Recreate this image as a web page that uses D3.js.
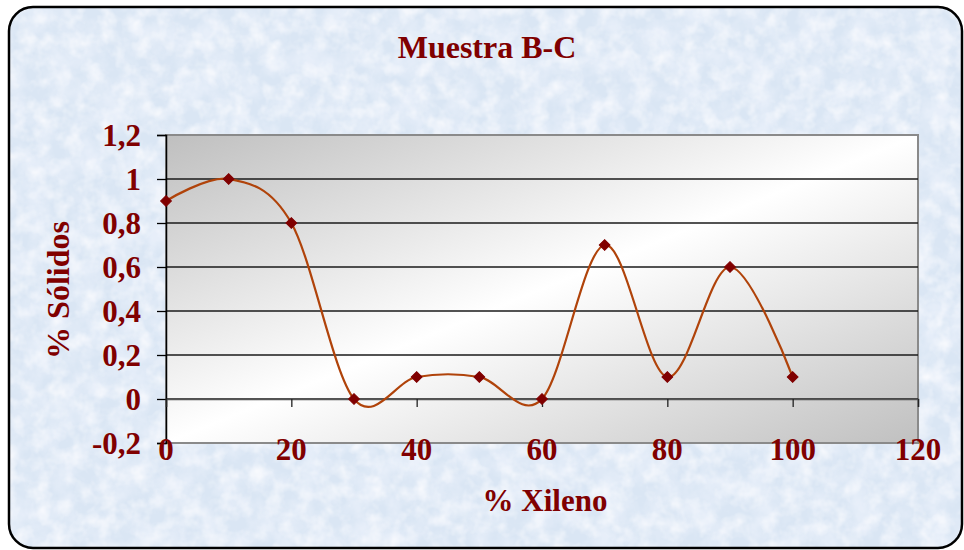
<!DOCTYPE html>
<html><head><meta charset="utf-8">
<script src="https://cdn.jsdelivr.net/npm/d3@7"></script>
<style>html,body{margin:0;padding:0;background:#fff;}</style>
</head><body>
<svg id="c" width="964" height="550"></svg>
<script>
const xValues = [0, 10, 20, 30, 40, 50, 60, 70, 80, 90, 100];
const yValues = [0.9, 1, 0.8, 0, 0.1, 0.1, 0, 0.7, 0.1, 0.6, 0.1];
const xTicks = [0, 20, 40, 60, 80, 100, 120];
const yTicks = [-0.2, 0, 0.2, 0.4, 0.6, 0.8, 1, 1.2];
const title = "Muestra B-C";
const xTitle = "% Xileno";
const yTitle = "% Sólidos";

const svg = d3.select("#c");
const defs = svg.append("defs");
const dark = "#800000";
const font = "'Liberation Serif','Times New Roman',serif";

// texture
const f = defs.append("filter").attr("id","tex").attr("x",0).attr("y",0).attr("width","100%").attr("height","100%");
f.append("feTurbulence").attr("type","fractalNoise").attr("baseFrequency","0.04").attr("numOctaves",4).attr("seed",7).attr("result","n");
f.append("feColorMatrix").attr("in","n").attr("type","matrix")
 .attr("values","0 0 0 0 0.80  0 0 0 0 0.86  0 0 0 0 0.95  0 0 0 2.2 -0.75").attr("result","c");
f.append("feComposite").attr("in","c").attr("in2","SourceGraphic").attr("operator","in");

const f2 = defs.append("filter").attr("id","tex2").attr("x",0).attr("y",0).attr("width","100%").attr("height","100%");
f2.append("feTurbulence").attr("type","fractalNoise").attr("baseFrequency","0.06").attr("numOctaves",3).attr("seed",11).attr("result","n");
f2.append("feColorMatrix").attr("in","n").attr("type","matrix")
 .attr("values","0 0 0 0 0.95  0 0 0 0 0.96  0 0 0 0 0.99  0 0 0 1.8 -0.75").attr("result","c");
f2.append("feComposite").attr("in","c").attr("in2","SourceGraphic").attr("operator","in");

const g = defs.append("linearGradient").attr("id","pg").attr("x1","0").attr("y1","0").attr("x2","1").attr("y2","1");
g.append("stop").attr("offset","0").attr("stop-color","#bfbfbf");
g.append("stop").attr("offset","0.5").attr("stop-color","#ffffff");
g.append("stop").attr("offset","1").attr("stop-color","#c0c0c0");

defs.append("clipPath").attr("id","bgclip").append("rect")
  .attr("x",9).attr("y",7).attr("width",953).attr("height",541).attr("rx",24);

svg.append("rect").attr("x",9).attr("y",7).attr("width",953).attr("height",541).attr("rx",24)
  .attr("fill","#dae6f4");
const bg = svg.append("g").attr("clip-path","url(#bgclip)");
bg.append("rect").attr("x",9).attr("y",7).attr("width",953).attr("height",541)
  .attr("fill","#ccc").attr("filter","url(#tex)");
bg.append("rect").attr("x",9).attr("y",7).attr("width",953).attr("height",541)
  .attr("fill","#ccc").attr("filter","url(#tex2)");
svg.append("rect").attr("x",9).attr("y",7).attr("width",953).attr("height",541).attr("rx",24)
  .attr("fill","none").attr("stroke","#000").attr("stroke-width",2.5);

const L = 166, R = 918, T = 135, B = 443;
const x = d3.scaleLinear().domain([0,120]).range([L,R]);
const y = d3.scaleLinear().domain([-0.2,1.2]).range([B,T]);

svg.append("rect").attr("x",L).attr("y",T).attr("width",R-L).attr("height",B-T)
  .attr("fill","url(#pg)").attr("stroke","#8a8a8a").attr("stroke-width",2);

// gridlines
svg.append("g").selectAll("line").data(yTicks.filter(d=>d>-0.2 && d<1.2)).join("line")
  .attr("x1",L).attr("x2",R).attr("y1",d=>y(d)).attr("y2",d=>y(d))
  .attr("stroke","#1a1a1a").attr("stroke-width",1.3);

const fmt = d => String(+d.toFixed(1)).replace(".", ",");

// y axis
const ya = svg.append("g").attr("transform",`translate(${L},0)`)
  .call(d3.axisLeft(y).tickValues(yTicks).tickSize(9).tickPadding(16).tickFormat(fmt));
ya.select(".domain").attr("stroke","#000").attr("stroke-width",1.5);
ya.selectAll(".tick line").attr("stroke","#000").attr("stroke-width",1.3);
ya.selectAll("text").attr("font-family",font).attr("font-weight","bold").attr("font-size",31)
  .attr("fill",dark).attr("dy","0.33em");

// x axis at y=0
const xa = svg.append("g").attr("transform",`translate(0,${y(0)})`)
  .call(d3.axisBottom(x).tickValues(xTicks).tickSize(8).tickFormat(""));
xa.select(".domain").attr("stroke","#555").attr("stroke-width",1.5);
xa.selectAll(".tick line").attr("stroke","#222").attr("stroke-width",1.3);

svg.append("g").selectAll("text").data(xTicks).join("text")
  .attr("x",d=>x(d)).attr("y",B+17).attr("text-anchor","middle")
  .attr("font-family",font).attr("font-weight","bold").attr("font-size",31).attr("fill",dark)
  .text(d=>d);

// line
const pts = xValues.map((v,i)=>[v,yValues[i]]);
svg.append("path").datum(pts)
  .attr("d", d3.line().x(d=>x(d[0])).y(d=>y(d[1])).curve(d3.curveCatmullRom.alpha(0)))
  .attr("fill","none").attr("stroke","#b0430a").attr("stroke-width",2.2);

svg.append("g").selectAll("path").data(pts).join("path")
  .attr("d", d3.symbol(d3.symbolSquare, 58))
  .attr("transform",d=>`translate(${x(d[0])},${y(d[1])}) rotate(45)`)
  .attr("fill",dark).attr("stroke",dark).attr("stroke-width",1);

// titles
svg.append("text").attr("x",487).attr("y",58).attr("text-anchor","middle")
  .attr("font-family",font).attr("font-weight","bold").attr("font-size",32).attr("fill",dark).text(title);
svg.append("text").attr("x",545).attr("y",511).attr("text-anchor","middle")
  .attr("font-family",font).attr("font-weight","bold").attr("font-size",31).attr("fill",dark).text(xTitle);
svg.append("text").attr("transform","translate(69,290) rotate(-90)").attr("text-anchor","middle")
  .attr("font-family",font).attr("font-weight","bold").attr("font-size",32).attr("fill",dark).text(yTitle);
</script>
</body></html>
